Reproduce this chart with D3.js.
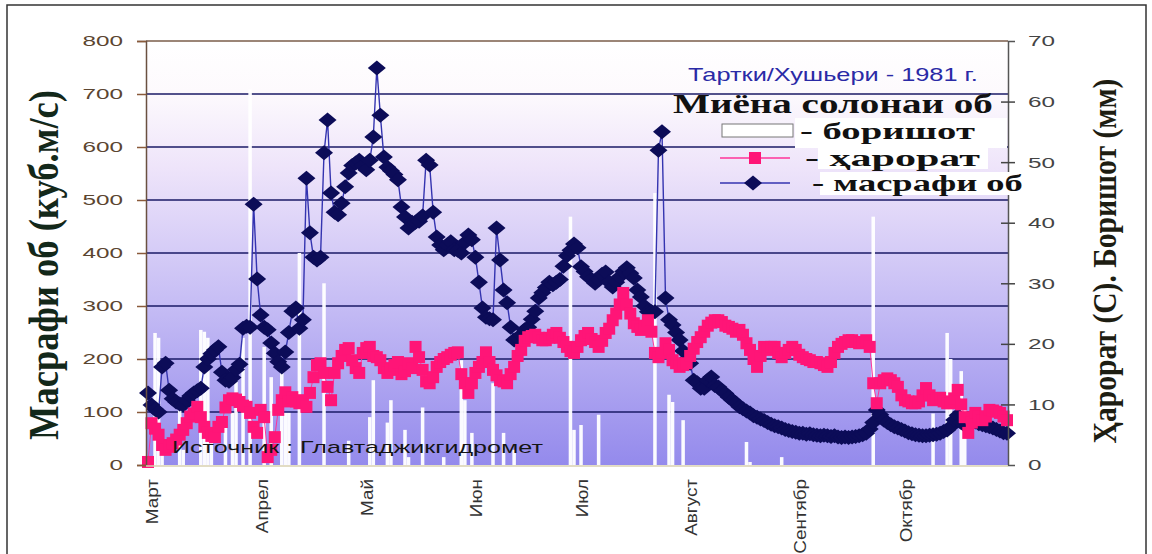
<!DOCTYPE html>
<html><head><meta charset="utf-8">
<script src="https://cdn.jsdelivr.net/npm/d3@7"></script>
<style>body{margin:0;background:#fff}svg{display:block}</style>
</head><body>
<svg id="c" width="1152" height="554"></svg>
<script>
// ---------- DATA ----------
const monthLabels = ["Март","Апрел","Май","Июн","Июл","Август","Сентябр","Октябр"];
const leftTicks = [0,100,200,300,400,500,600,700,800];
const rightTicks = [0,10,20,30,40,50,60,70];
// daily discharge, m3/s (1 Mar – 31 Oct 1981)
const discharge = [
136,113,105,100,185,192,141,125,119,115,
113,122,130,136,140,145,185,200,210,217,
223,175,160,158,165,180,190,258,262,260,
492,351,283,260,255,230,211,195,185,213,
250,290,296,258,274,541,438,392,387,392,
589,651,513,477,472,494,525,551,565,570,
575,565,557,575,619,749,660,581,562,555,
548,538,487,468,447,458,458,460,470,575,
566,477,430,415,406,415,421,406,405,400,
420,434,425,392,345,296,279,276,274,447,
387,330,306,260,236,240,245,255,260,275,
290,315,325,335,345,340,345,350,375,395,
405,417,410,374,365,355,350,343,350,360,
364,345,336,345,355,365,372,362,353,330,
317,300,289,289,289,594,629,315,274,264,
250,236,215,200,192,160,155,145,145,160,
166,150,147,140,135,128,122,117,110,106,
102,98,93,90,87,84,80,77,74,72,
70,67,65,63,62,60,60,58,59,57,
56,55,56,55,54,55,53,52,53,52,
53,54,55,57,60,68,80,104,95,85,
80,76,72,70,67,64,61,59,57,56,
55,55,56,57,58,60,63,66,72,85,
94,80,75,78,80,81,78,76,74,72,
70,67,64,61,60];
// daily air temperature, °C
const temperature = [
0.5,6.9,6.0,5.0,3.3,2.5,3.0,3.6,4.2,5.0,
5.8,6.9,8.0,8.5,9.6,7.9,6.3,5.3,4.8,4.6,
6.3,7.1,9.5,10.7,11.0,10.8,10.4,9.8,9.6,8.6,
6.3,5.3,9.1,7.9,1.3,2.5,4.6,9.1,10.7,12.0,
10.5,11.2,10.5,10.2,10.7,9.6,11.9,14.5,16.5,16.8,
15.2,12.9,10.7,15.2,16.8,18.0,19.0,19.3,17.3,16.0,
15.2,18.5,19.3,19.5,18.0,17.8,17.3,16.0,15.2,15.7,
16.5,17.0,15.0,15.5,16.8,16.0,19.5,17.8,15.7,13.8,
13.5,14.5,16.2,17.0,17.5,17.8,18.2,18.5,18.6,15.0,
13.5,11.9,13.5,15.2,16.2,17.0,18.6,17.0,15.7,14.8,
14.0,13.8,13.5,15.0,16.2,18.0,19.0,20.5,21.1,21.3,
21.5,21.0,20.6,20.6,21.0,21.5,21.8,21.0,20.3,19.5,
18.8,18.5,19.5,20.6,21.3,21.8,20.8,20.3,19.5,20.5,
21.8,22.5,23.9,25.0,26.5,28.4,26.5,25.0,23.4,22.8,
22.3,23.0,23.9,22.0,18.5,17.8,18.5,20.1,19.0,17.3,
16.8,16.2,16.5,16.8,18.0,19.2,20.3,21.1,22.0,23.0,
23.5,23.9,23.9,23.6,23.0,22.8,22.5,22.0,22.3,21.5,
20.1,19.0,17.5,16.2,18.0,19.5,19.0,19.5,19.5,18.5,
17.8,18.5,19.0,19.5,19.0,18.2,17.8,17.5,17.3,17.0,
17.0,16.8,16.5,16.2,17.0,18.5,19.5,20.0,20.3,20.6,
20.6,20.3,20.1,20.3,20.6,19.5,13.5,10.2,13.5,14.0,
14.3,14.0,13.5,12.9,11.5,10.7,10.5,10.2,10.2,10.5,
11.5,12.7,11.5,10.7,11.0,11.1,10.5,10.2,10.2,11.0,
12.4,10.0,7.9,5.3,7.0,8.6,8.0,7.4,8.0,9.1,
9.0,8.8,8.6,8.0,7.4];
// daily precipitation, mm
const precipitation = [
0,0,21.8,21,3,0,0,0,0,11,
2.5,0,0,0,0,22.3,22,21,6,0,
0,0,7,0,8.6,14,0,21,0,62,
0,0,0,19.5,0,14.5,0,0,17,8.6,
8.6,0,0,35,0,0,0,0,0,0,
30,0,0,0,0,0,0,4,0,0,
0,0,0,7.9,14,0,0,0,7,10.7,
0,0,0,5.8,1.3,0,0,0,9.5,0,
0,0,0,0,1.3,0,0,0,0,17.3,
10.7,0,5.3,0,0,0,0,0,13.5,0,
0,5.3,0,0,2.5,0,0,0,0,0,
0,0,0,0,0,0,0,0,0,0,
41,5.8,0,6.6,0,0,0,0,8.3,0,
0,0,0,0,0,0,0,0,0,0,
0,0,0,0,44.9,0,0,0,11.6,10.4,
0,0,7.4,0,0,0,0,0,0,0,
0,0,0,0,0,0,0,0,0,0,
3.8,0.5,0,0,0,0,0,0,0,0,
1.3,0,0,0,0,0,0,0,0,0,
0,0,0,0,0,0,0,0,0,0,
0,0,0,0,0,0,41,0,0,0,
0,0,0,0,0,0,0,0,0,0,
0,0,0,8.5,0,0,0,21.8,17.5,0,
0,15.5,10,0,0,0,0,0,0,0,
0,0,0,0,0];

// ---------- LAYOUT ----------
const L = 146, R = 1008, T = 41, B = 465;
const SANS = "'Liberation Sans', Arial, sans-serif";
const SERIF = "'Liberation Serif', 'DejaVu Serif', 'Times New Roman', serif";
const svg = d3.select("#c");

const dates = d3.timeDay.range(new Date(1981,2,1), new Date(1981,10,1));
const monthStarts = d3.timeMonth.range(new Date(1981,2,1), new Date(1981,10,1));
const x = d3.scaleTime().domain([dates[0], dates[dates.length-1]]).range([148, 1007]);
const yL = d3.scaleLinear().domain([0,800]).range([B,T]);
const yR = d3.scaleLinear().domain([0,70]).range([B,T]);

// frame
svg.append("rect").attr("x",7).attr("y",5).attr("width",1139).attr("height",560)
  .attr("fill","#fff").attr("stroke","#333").attr("stroke-width",1.5);

// background gradient
const defs = svg.append("defs");
const lg = defs.append("linearGradient").attr("id","bg").attr("x1",0).attr("y1",0).attr("x2",0).attr("y2",1);
[[0,"#ffffff"],[0.12,"#fdfafd"],[0.3,"#eee4fa"],[0.6,"#c8bff5"],[1,"#948aec"]]
  .forEach(([o,c]) => lg.append("stop").attr("offset",o).attr("stop-color",c));
svg.append("rect").attr("x",L).attr("y",T).attr("width",R-L).attr("height",B-T).attr("fill","url(#bg)");

// gridlines
svg.append("g").selectAll("line").data(leftTicks.filter(v => v>0)).join("line")
  .attr("x1",L).attr("x2",R).attr("y1",d=>yL(d)).attr("y2",d=>yL(d))
  .attr("stroke",d => d===800 ? "#7a5c4a" : "#1a1a66").attr("stroke-width",1.7);

// precipitation bars
const bw = (x(dates[1]) - x(dates[0])) * 1.0;
svg.append("g").selectAll("rect").data(dates.map((d,i)=>({d, v: precipitation[i]})).filter(o=>o.v>0)).join("rect")
  .attr("x", o => x(o.d) - bw/2).attr("width", bw)
  .attr("y", o => yR(o.v)).attr("height", o => B - yR(o.v))
  .attr("fill","#ffffff").attr("fill-opacity",0.96);

// discharge line + diamonds
const dPts = dates.map((d,i)=>({d, v: discharge[i]}));
svg.append("path").datum(dPts).attr("fill","none").attr("stroke","#3434b0").attr("stroke-width",1.4)
  .attr("d", d3.line().x(o=>x(o.d)).y(o=>yL(o.v)));
const diamond = "M0,-7.5L9,0L0,7.5L-9,0Z";
svg.append("g").selectAll("path").data(dPts).join("path")
  .attr("d", diamond).attr("transform", o => `translate(${x(o.d)},${yL(o.v)})`).attr("fill","#0c0c58");

// temperature line + squares
const tPts = dates.map((d,i)=>({d, v: temperature[i]}));
svg.append("path").datum(tPts).attr("fill","none").attr("stroke","#ff3399").attr("stroke-width",1)
  .attr("d", d3.line().x(o=>x(o.d)).y(o=>yR(o.v)));
svg.append("g").selectAll("rect").data(tPts).join("rect")
  .attr("x", o => x(o.d)-6).attr("y", o => yR(o.v)-6).attr("width",12).attr("height",12)
  .attr("fill","#ff1577");

// text helper: fit natural text to a target length
function placeText(g, str, o) {
  const t = g.append("text").text(str)
    .attr("font-size", o.size).attr("font-family", o.family)
    .attr("font-weight", o.weight || "normal").attr("fill", o.fill)
    .attr("text-anchor", o.anchor || "start");
  if (o.dy) t.attr("dy", o.dy);
  const n = t.node().getComputedTextLength();
  const sx = o.len ? o.len / n : (o.sx || 1);
  t.attr("transform", `translate(${o.x},${o.y}) rotate(${o.rotate||0}) scale(${sx},${o.sy||1})`);
  return t;
}

// left axis
const gL = svg.append("g").attr("transform",`translate(${L},0)`)
  .call(d3.axisLeft(yL).tickValues(leftTicks).tickSize(9).tickFormat(d3.format("d")));
gL.select(".domain").attr("stroke","#6a5040").attr("stroke-width",1.5);
gL.selectAll(".tick line").attr("stroke","#8a5a3a").attr("stroke-width",1.5);
gL.selectAll(".tick text").remove();
leftTicks.forEach(v => placeText(gL, String(v), {x:-23, y:yL(v), size:15, family:SANS, fill:"#5b4530",
  anchor:"end", dy:"0.36em", sx:1.62}));

// right axis
const gR = svg.append("g").attr("transform",`translate(${R},0)`)
  .call(d3.axisRight(yR).tickValues(rightTicks).tickSize(7).tickFormat(d3.format("d")));
gR.select(".domain").attr("stroke","#555").attr("stroke-width",1.5);
gR.selectAll(".tick line").attr("x1",-7).attr("stroke","#444").attr("stroke-width",1.5)
  .filter(d => d===0 || d===70).remove();
gR.selectAll(".tick text").remove();
rightTicks.forEach(v => placeText(gR, String(v), {x:20, y:yR(v), size:15, family:SANS, fill:"#444",
  anchor:"start", dy:"0.36em", sx:1.62}));

// bottom line + month labels
svg.append("line").attr("x1",L).attr("x2",R).attr("y1",B+1).attr("y2",B+1).attr("stroke","#d8d0b0").attr("stroke-width",1.5);
const gB = svg.append("g").attr("transform",`translate(0,${B})`)
  .call(d3.axisBottom(x).tickValues(monthStarts).tickSize(0).tickFormat((d,i)=>monthLabels[i]));
gB.select(".domain").remove();
gB.selectAll(".tick text").remove();
gB.selectAll(".tick").each(function(d,i){
  placeText(d3.select(this), monthLabels[i], {x:4, y:14, size:16, family:SANS, fill:"#333",
    anchor:"end", dy:"0.35em", rotate:-90, sx:1.18, sy:1.05});
});

// axis titles
placeText(svg, "Масрафи об (куб.м/с)", {x:43, y:265, size:38, family:SERIF, weight:"bold",
  fill:"#13281a", anchor:"middle", dy:"0.35em", rotate:-90, len:350, sy:1.12});
placeText(svg, "Ҳарорат (С). Боришот (мм)", {x:1104, y:261, size:34, family:SERIF, weight:"bold",
  fill:"#1d1d12", anchor:"middle", dy:"0.35em", rotate:-90, len:365});

// source note
placeText(svg, "Источник : Главтаджикгидромет", {x:172, y:453, size:17, family:SANS, fill:"#151515", len:371});

// legend
const lgG = svg.append("g");
placeText(lgG, "Тартки/Хушьери - 1981 г.", {x:688, y:81, size:18, family:SANS, fill:"#2a2aa6", len:290});
placeText(lgG, "Миёна солонаи об", {x:673, y:113, size:27, family:SERIF, weight:"bold", fill:"#111", len:320});
lgG.append("rect").attr("x",795).attr("y",118).attr("width",212).attr("height",30).attr("fill","#fff");
lgG.append("rect").attr("x",818).attr("y",148).attr("width",170).attr("height",21).attr("fill","#fff");
lgG.append("rect").attr("x",820).attr("y",172).attr("width",205).attr("height",23).attr("fill","#fff");
lgG.append("rect").attr("x",722).attr("y",124).attr("width",71).attr("height",13)
  .attr("fill","#fff").attr("stroke","#777").attr("stroke-width",1);
placeText(lgG, "- боришот", {x:800, y:139, size:24, family:SERIF, weight:"bold", fill:"#111", len:175});
lgG.append("line").attr("x1",720).attr("x2",790).attr("y1",158).attr("y2",158).attr("stroke","#ff3399").attr("stroke-width",1.5);
lgG.append("rect").attr("x",749).attr("y",152).attr("width",12).attr("height",12).attr("fill","#ff1577");
placeText(lgG, "- ҳарорат", {x:805, y:166, size:24, family:SERIF, weight:"bold", fill:"#111", len:175});
lgG.append("line").attr("x1",720).attr("x2",790).attr("y1",183).attr("y2",183).attr("stroke","#3434b0").attr("stroke-width",1.5);
lgG.append("path").attr("d",diamond).attr("transform","translate(753,183)").attr("fill","#0c0c58");
placeText(lgG, "- масрафи об", {x:812, y:191, size:24, family:SERIF, weight:"bold", fill:"#111", len:211});
</script>
</body></html>
